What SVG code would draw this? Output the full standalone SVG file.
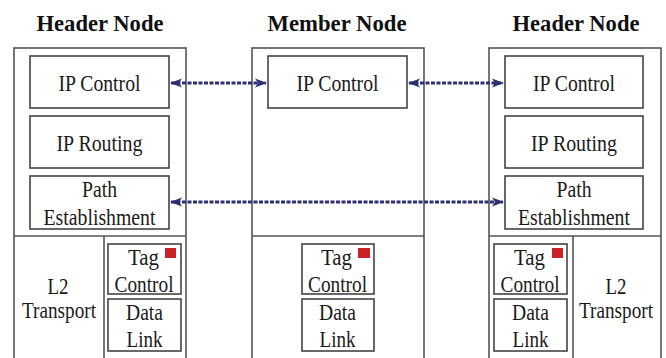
<svg xmlns="http://www.w3.org/2000/svg" width="666" height="358" viewBox="0 0 666 358">
<defs>
<marker id="ah" markerWidth="12" markerHeight="10" refX="11" refY="5" orient="auto-start-reverse" markerUnits="userSpaceOnUse">
<path d="M0,0.5 L12,5 L0,9.5 L3,5 z" fill="#2e2e72"/>
</marker>
</defs>
<style>
.outer{fill:#fff;stroke:#555;stroke-width:1.6}
.box{fill:#fff;stroke:#444;stroke-width:1.6}
.div{stroke:#555;stroke-width:1.6;fill:none}
.title{font-family:"Liberation Serif",serif;font-weight:bold;font-size:24px;fill:#111;text-anchor:middle}
.t{font-family:"Liberation Serif",serif;font-size:23px;fill:#1a1a1a;text-anchor:middle}
.tag{fill:#cc2127}
.conn{stroke:#2e2e72;stroke-width:3;stroke-dasharray:4 1.5;fill:none}
</style>
<rect width="666" height="358" fill="#fff"/>

<g id="header-left">
<text class="title" x="100" y="31" textLength="127" lengthAdjust="spacingAndGlyphs">Header Node</text>
<rect class="outer" x="14" y="48" width="172" height="320"/>
<line class="div" x1="14" y1="236" x2="186" y2="236"/>
<line class="div" x1="104" y1="236" x2="104" y2="360"/>
<g id="hl-ipcontrol"><rect class="box" x="30" y="56" width="139" height="52"/><text class="t" x="99.5" y="91" textLength="82" lengthAdjust="spacingAndGlyphs">IP Control</text></g>
<g id="hl-iprouting"><rect class="box" x="30" y="116" width="139" height="52"/><text class="t" x="99.5" y="151" textLength="86" lengthAdjust="spacingAndGlyphs">IP Routing</text></g>
<g id="hl-path"><rect class="box" x="30" y="176" width="139" height="53"/><text class="t" x="99.5" y="197" textLength="35" lengthAdjust="spacingAndGlyphs">Path</text><text class="t" x="99.5" y="225" textLength="112" lengthAdjust="spacingAndGlyphs">Establishment</text></g>
<g id="hl-l2"><text class="t" x="58" y="294" textLength="21" lengthAdjust="spacingAndGlyphs">L2</text><text class="t" x="59" y="318" textLength="74" lengthAdjust="spacingAndGlyphs">Transport</text></g>
<g id="hl-tag"><rect class="box" x="108" y="244" width="73" height="50"/><rect class="tag" x="165" y="248" width="11" height="10"/><text class="t" x="143.5" y="265" textLength="31" lengthAdjust="spacingAndGlyphs">Tag</text><text class="t" x="144" y="292" textLength="59" lengthAdjust="spacingAndGlyphs">Control</text></g>
<g id="hl-data"><rect class="box" x="108" y="299" width="73" height="52"/><text class="t" x="144.5" y="320" textLength="37" lengthAdjust="spacingAndGlyphs">Data</text><text class="t" x="144.5" y="347" textLength="36" lengthAdjust="spacingAndGlyphs">Link</text></g>
</g>

<g id="member">
<text class="title" x="337" y="31" textLength="139" lengthAdjust="spacingAndGlyphs">Member Node</text>
<rect class="outer" x="252" y="48" width="172" height="320"/>
<line class="div" x1="252" y1="236" x2="424" y2="236"/>
<g id="m-ipcontrol"><rect class="box" x="268" y="56" width="139" height="52"/><text class="t" x="337.5" y="91" textLength="82" lengthAdjust="spacingAndGlyphs">IP Control</text></g>
<g id="m-tag"><rect class="box" x="302" y="244" width="72" height="50"/><rect class="tag" x="358" y="248" width="12" height="10"/><text class="t" x="336.5" y="265" textLength="31" lengthAdjust="spacingAndGlyphs">Tag</text><text class="t" x="337.5" y="292" textLength="59" lengthAdjust="spacingAndGlyphs">Control</text></g>
<g id="m-data"><rect class="box" x="302" y="299" width="72" height="52"/><text class="t" x="337.5" y="320" textLength="37" lengthAdjust="spacingAndGlyphs">Data</text><text class="t" x="337.5" y="347" textLength="36" lengthAdjust="spacingAndGlyphs">Link</text></g>
</g>

<g id="header-right">
<text class="title" x="576" y="31" textLength="127" lengthAdjust="spacingAndGlyphs">Header Node</text>
<rect class="outer" x="489" y="48" width="172" height="320"/>
<line class="div" x1="489" y1="236" x2="661" y2="236"/>
<line class="div" x1="573" y1="236" x2="573" y2="360"/>
<g id="hr-ipcontrol"><rect class="box" x="505" y="56" width="138" height="52"/><text class="t" x="574" y="91" textLength="82" lengthAdjust="spacingAndGlyphs">IP Control</text></g>
<g id="hr-iprouting"><rect class="box" x="505" y="116" width="138" height="52"/><text class="t" x="574" y="151" textLength="86" lengthAdjust="spacingAndGlyphs">IP Routing</text></g>
<g id="hr-path"><rect class="box" x="505" y="176" width="138" height="53"/><text class="t" x="574" y="197" textLength="35" lengthAdjust="spacingAndGlyphs">Path</text><text class="t" x="574" y="225" textLength="112" lengthAdjust="spacingAndGlyphs">Establishment</text></g>
<g id="hr-l2"><text class="t" x="616" y="294" textLength="21" lengthAdjust="spacingAndGlyphs">L2</text><text class="t" x="616" y="318" textLength="74" lengthAdjust="spacingAndGlyphs">Transport</text></g>
<g id="hr-tag"><rect class="box" x="494" y="244" width="73" height="50"/><rect class="tag" x="552" y="248" width="11" height="10"/><text class="t" x="529.5" y="265" textLength="31" lengthAdjust="spacingAndGlyphs">Tag</text><text class="t" x="530" y="292" textLength="59" lengthAdjust="spacingAndGlyphs">Control</text></g>
<g id="hr-data"><rect class="box" x="494" y="299" width="73" height="52"/><text class="t" x="530.5" y="320" textLength="37" lengthAdjust="spacingAndGlyphs">Data</text><text class="t" x="530.5" y="347" textLength="36" lengthAdjust="spacingAndGlyphs">Link</text></g>
</g>

<g id="connectors">
<line class="conn" x1="171" y1="83" x2="266" y2="83" marker-start="url(#ah)" marker-end="url(#ah)"/>
<line class="conn" x1="409" y1="83" x2="503" y2="83" marker-start="url(#ah)" marker-end="url(#ah)"/>
<line class="conn" x1="171" y1="202" x2="503" y2="202" marker-start="url(#ah)" marker-end="url(#ah)"/>
</g>
</svg>
